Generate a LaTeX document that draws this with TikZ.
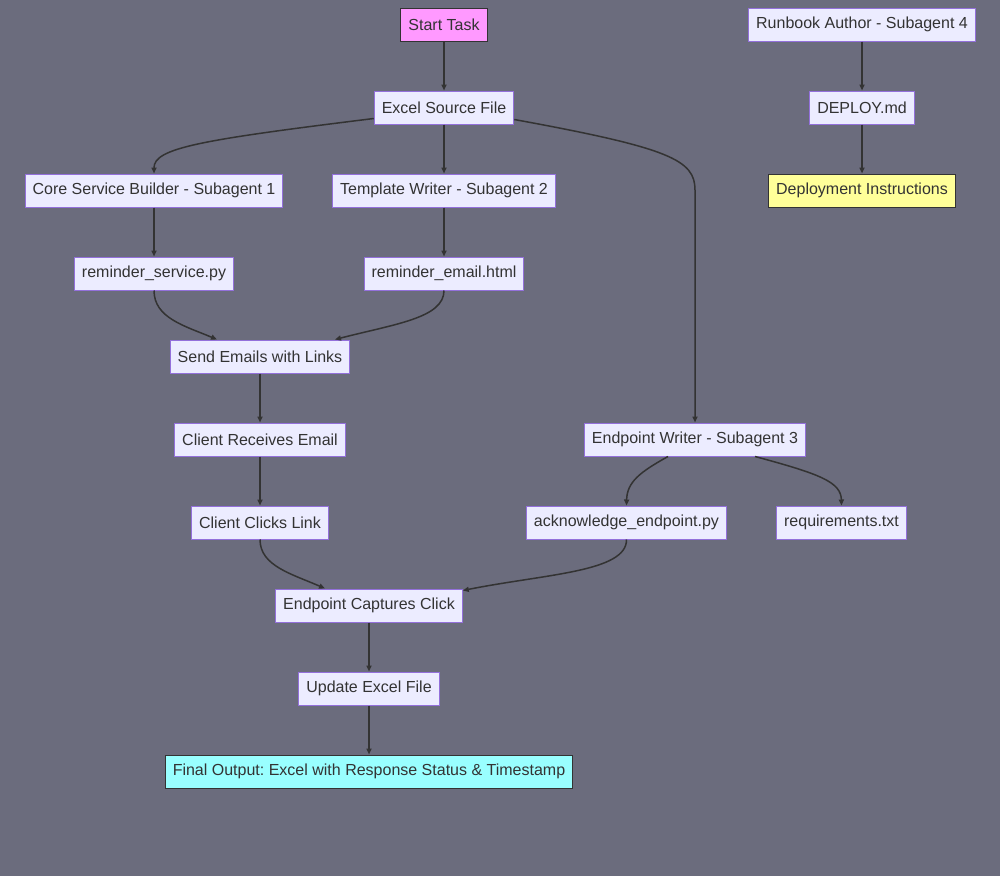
\documentclass[tikz,border=0pt]{standalone}
\usepackage{fontspec}
\setmainfont{Liberation Sans}
\usepackage{xcolor}
\usetikzlibrary{arrows.meta, positioning}
\definecolor{fondo}{RGB}{107,108,125}
\definecolor{caja}{HTML}{ECECFF}
\definecolor{borde}{HTML}{9370DB}
\definecolor{tinta}{HTML}{333333}
\definecolor{rosa}{HTML}{FF99FF}
\definecolor{amarillo}{HTML}{FFFF99}
\definecolor{cian}{HTML}{99FFFF}
\frenchspacing
\begin{document}
\begin{tikzpicture}[x=1pt, y=-1pt,
    paso/.style={draw=borde, line width=1pt, fill=caja, text=tinta, inner xsep=7.5pt,
      minimum height=33pt, font=\fontsize{16}{19}\selectfont},
    marca/.style={paso, draw=tinta},
    flecha/.style={draw=tinta, line width=1.5pt, -{Triangle[length=6pt,width=5pt]}}]
        % Fondo y margenes
        \useasboundingbox (0,0) rectangle (1000,876);
        \fill[fondo] (0,0) rectangle (1000,876);
        % Nodos de la columna izquierda
        \node[marca, fill=rosa] (inicio) at (444,24.5) {Start Task};
        \node[paso] (excel) at (444,107.5) {Excel Source File};
        \node[paso] (core) at (154,190.5) {Core Service Builder - Subagent 1};
        \node[paso] (plantilla) at (444,190.5) {Template Writer - Subagent 2};
        \node[paso] (servicio) at (154,273.5) {reminder\_service.py};
        \node[paso] (correo) at (444,273.5) {reminder\_email.html};
        \node[paso] (enviar) at (260,356.5) {Send Emails with Links};
        \node[paso] (recibe) at (260,439.5) {Client Receives Email};
        \node[paso] (clic) at (260,522.5) {Client Clicks Link};
        \node[paso] (captura) at (369,605.5) {Endpoint Captures Click};
        \node[paso] (actualiza) at (369,688.5) {Update Excel File};
        \node[marca, fill=cian] (final) at (369,771.5) {Final Output: Excel with Response Status \& Timestamp};
        % Nodos de la columna derecha
        \node[paso] (endpoint) at (695,439.5) {Endpoint Writer - Subagent 3};
        \node[paso] (ack) at (626.5,522.5) {acknowledge\_endpoint.py};
        \node[paso] (req) at (841.5,522.5) {requirements.txt};
        \node[paso] (runbook) at (862,24.5) {Runbook Author - Subagent 4};
        \node[paso] (deploy) at (862,107.5) {DEPLOY.md};
        \node[marca, fill=amarillo] (instr) at (862,190.5) {Deployment Instructions};
        % Flechas rectas
        \foreach \a/\b in {inicio/excel, excel/plantilla, core/servicio, plantilla/correo,
            enviar/recibe, recibe/clic, captura/actualiza, actualiza/final,
            runbook/deploy, deploy/instr} {
            \draw[flecha] (\a) -- (\b);
        }
        % Flechas curvas
        \draw[flecha] ([yshift=6pt]excel.south west) .. controls (200,140) and (154,148) .. (core.north);
        \draw[flecha] ([yshift=5pt]excel.south east) .. controls (670,148) and (695,160) .. (695,190) -- (endpoint.north);
        \draw[flecha] (servicio.south) .. controls (154,318) and (185,326) .. ([xshift=-43pt]enviar.north);
        \draw[flecha] (correo.south) .. controls (444,318) and (395,324) .. ([xshift=75pt]enviar.north);
        \draw[flecha] (clic.south) .. controls (260,566) and (292,574) .. ([xshift=-44pt]captura.north);
        \draw[flecha] ([xshift=-27pt]endpoint.south) .. controls (640,472) and (627,482) .. (ack.north);
        \draw[flecha] ([xshift=60pt]endpoint.south) .. controls (820,474) and (841,482) .. (req.north);
        \draw[flecha] (ack.south) .. controls (627,572) and (545,574) .. ([yshift=-2pt]captura.north east);
    \end{tikzpicture}
\end{document}
